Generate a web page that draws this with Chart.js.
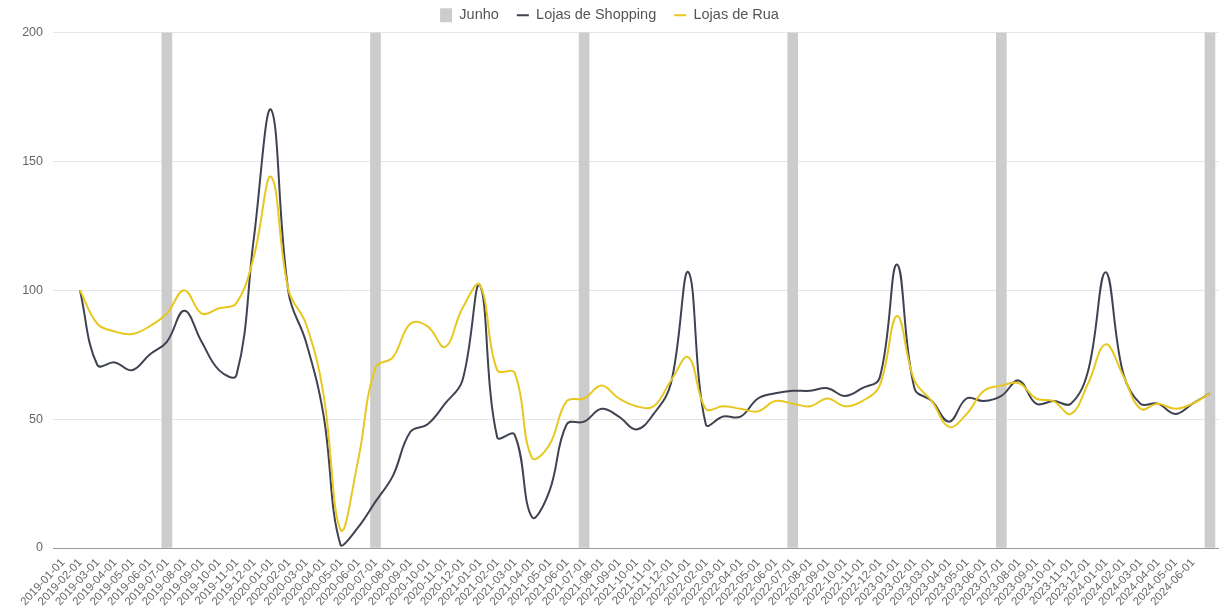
<!DOCTYPE html>
<html>
<head>
<meta charset="utf-8">
<script src="https://cdn.jsdelivr.net/npm/chart.js@4.4.1/dist/chart.umd.min.js"></script>
<style>
  html, body { margin: 0; padding: 0; background: #fff; }
  .chart-holder { width: 1219px; height: 610px; }
</style>
</head>
<body>
<div class="chart-holder"><canvas id="chart"></canvas></div>
<script>
const dates = [
  '2019-01-01', '2019-02-01', '2019-03-01', '2019-04-01', '2019-05-01', '2019-06-01',
  '2019-07-01', '2019-08-01', '2019-09-01', '2019-10-01', '2019-11-01', '2019-12-01',
  '2020-01-01', '2020-02-01', '2020-03-01', '2020-04-01', '2020-05-01', '2020-06-01',
  '2020-07-01', '2020-08-01', '2020-09-01', '2020-10-01', '2020-11-01', '2020-12-01',
  '2021-01-01', '2021-02-01', '2021-03-01', '2021-04-01', '2021-05-01', '2021-06-01',
  '2021-07-01', '2021-08-01', '2021-09-01', '2021-10-01', '2021-11-01', '2021-12-01',
  '2022-01-01', '2022-02-01', '2022-03-01', '2022-04-01', '2022-05-01', '2022-06-01',
  '2022-07-01', '2022-08-01', '2022-09-01', '2022-10-01', '2022-11-01', '2022-12-01',
  '2023-01-01', '2023-02-01', '2023-03-01', '2023-04-01', '2023-05-01', '2023-06-01',
  '2023-07-01', '2023-08-01', '2023-09-01', '2023-10-01', '2023-11-01', '2023-12-01',
  '2024-01-01', '2024-02-01', '2024-03-01', '2024-04-01', '2024-05-01', '2024-06-01',
];

const shopping = [
  100, 71, 72, 69, 75, 80, 92, 80, 69, 67, 120, 170,
  99, 80, 52, 1, 8, 18, 28, 45, 48, 56, 65, 102,
  43, 44, 12, 22, 48, 49, 54, 51, 46, 52, 64, 107,
  48, 51, 51, 58, 60, 61, 61, 62, 59, 62, 66, 110,
  62, 57, 49, 58, 57, 59, 65, 56, 57, 56, 69, 107,
  68, 56, 56, 52, 56, 60,
];

const rua = [
  100, 87, 84, 83, 86, 91, 100, 91, 93, 95, 113, 144,
  100, 87, 60, 7, 34, 70, 74, 87, 86, 78, 93, 102,
  69, 68, 35, 40, 57, 58, 63, 58, 55, 55, 65, 74,
  54, 55, 54, 53, 57, 56, 55, 58, 55, 57, 63, 90,
  65, 57, 47, 52, 61, 63, 64, 58, 57, 52, 64, 79,
  67, 54, 56, 54, 56, 60,
];

const junho = [
  null, null, null, null, null, 200, null, null, null, null, null, null,
  null, null, null, null, null, 200, null, null, null, null, null, null,
  null, null, null, null, null, 200, null, null, null, null, null, null,
  null, null, null, null, null, 200, null, null, null, null, null, null,
  null, null, null, null, null, 200, null, null, null, null, null, null,
  null, null, null, null, null, 200,
];

const yTicks = [0, 50, 100, 150, 200];

const toPoints = (values) => values.map((v, i) => ({ x: i, y: v }));

const initChart = () => {
  Chart.defaults.font.family = '"Liberation Sans", Arial, sans-serif';
  Chart.defaults.color = '#555';

  new Chart(document.getElementById('chart'), {
    type: 'line',
    data: {
      datasets: [
        {
          type: 'bar',
          label: 'Junho',
          data: toPoints(junho),
          backgroundColor: '#cccccc',
          borderWidth: 0,
          barThickness: 10,
          pointStyle: 'rect',
          order: 3,
        },
        {
          label: 'Lojas de Shopping',
          data: toPoints(shopping),
          borderColor: '#3f4250',
          backgroundColor: '#3f4250',
          borderWidth: 2,
          tension: 0.4,
          pointRadius: 0,
          pointStyle: 'line',
          order: 2,
        },
        {
          label: 'Lojas de Rua',
          data: toPoints(rua),
          borderColor: '#e8c820',
          backgroundColor: '#e8c820',
          borderWidth: 2,
          tension: 0.4,
          pointRadius: 0,
          pointStyle: 'line',
          order: 1,
        },
      ],
    },
    options: {
      responsive: true,
      maintainAspectRatio: false,
      animation: false,
      layout: { padding: { top: -10, right: 0, left: 0, bottom: 0 } },
      plugins: {
        tooltip: { enabled: false },
        legend: {
          display: true,
          position: 'top',
          maxHeight: 44,
          labels: {
            sort: (a, b) => a.datasetIndex - b.datasetIndex,
            usePointStyle: true,
            pointStyleWidth: 12,
            boxHeight: 14,
            padding: 18,
            color: '#555',
            font: { size: 14.5 },
          },
        },
      },
      scales: {
        x: {
          type: 'linear',
          offset: false,
          min: -1.55,
          max: 65.52,
          grid: { display: false },
          border: { display: true, color: '#999', width: 1 },
          afterBuildTicks: (scale) => {
            scale.ticks = dates.map((d, i) => ({ value: i }));
          },
          afterFit: (scale) => {
            scale.height = 62;
            scale.paddingLeft = 0;
            scale.paddingRight = 0;
          },
          ticks: {
            autoSkip: false,
            minRotation: 47,
            maxRotation: 47,
            padding: 0,
            labelOffset: -17,
            color: '#666',
            font: { size: 11.5 },
            callback: (value) => dates[value] ?? '',
          },
        },
        y: {
          min: 0,
          max: 200,
          afterBuildTicks: (scale) => {
            scale.ticks = yTicks.map((v) => ({ value: v }));
          },
          afterFit: (scale) => {
            scale.width = 53;
          },
          border: { display: false },
          grid: {
            drawTicks: false,
            color: (ctx) => (ctx.tick && ctx.tick.value === 0 ? '#999' : '#e6e6e6'),
          },
          ticks: {
            padding: 10,
            color: '#666',
            font: { size: 12.5 },
          },
        },
      },
    },
  });
};

initChart();
</script>
</body>
</html>
